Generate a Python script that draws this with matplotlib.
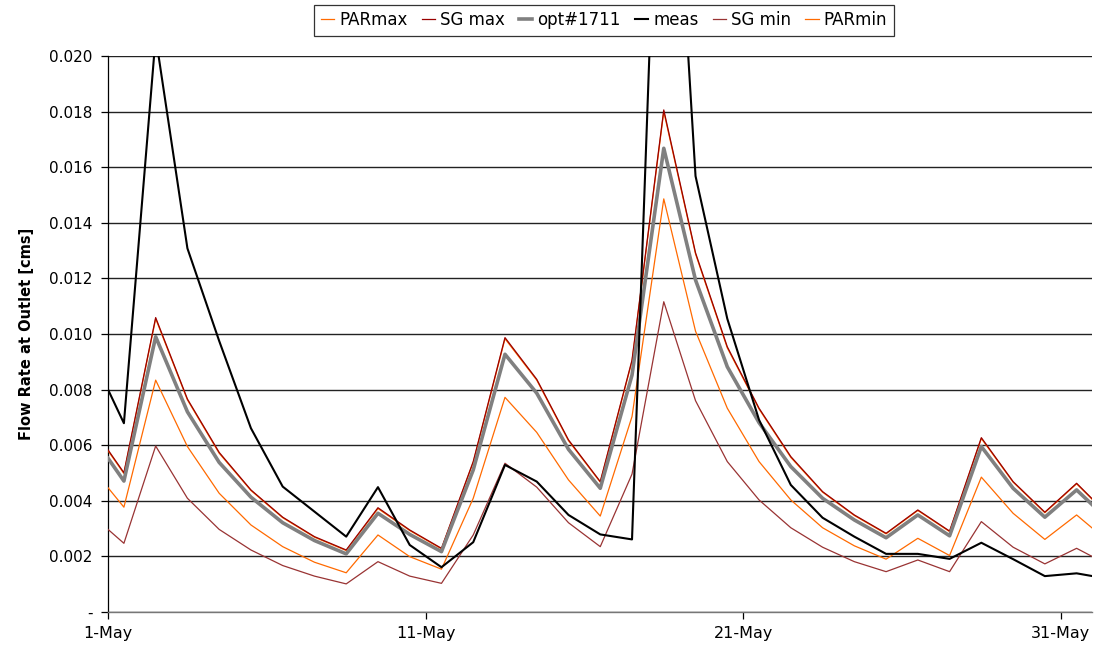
import matplotlib
matplotlib.use("Agg")
import matplotlib.pyplot as plt
from matplotlib.ticker import FixedLocator, FuncFormatter

# sample times, in days after 1-May 00:00
days = [0, 0.5, 1.5, 2.5, 3.5, 4.5, 5.5, 6.5, 7.5, 8.5, 9.5,
        10.5, 11.5, 12.5, 13.5, 14.5, 15.5, 16.5, 17.5, 18.5, 19.5,
        20.5, 21.5, 22.5, 23.5, 24.5, 25.5, 26.5, 27.5, 28.5, 29.5,
        30.5, 31]

sg_max = [0.00583, 0.00501, 0.01059, 0.00766, 0.00574, 0.00439, 0.00341, 0.00271, 0.00223, 0.00375, 0.00295,
          0.00229, 0.00541, 0.00987, 0.00837, 0.00619, 0.00469, 0.00906, 0.01806, 0.01292, 0.00954,
          0.00733, 0.00559, 0.00433, 0.00349, 0.00283, 0.00367, 0.00291, 0.00627, 0.00469, 0.00359,
          0.00463, 0.00406]
par_max = [0.00580, 0.00498, 0.01055, 0.00763, 0.00571, 0.00437, 0.00339, 0.00269, 0.00221, 0.00372, 0.00293,
           0.00227, 0.00538, 0.00983, 0.00834, 0.00616, 0.00467, 0.00902, 0.01800, 0.01288, 0.00950,
           0.00730, 0.00556, 0.00431, 0.00347, 0.00281, 0.00365, 0.00289, 0.00624, 0.00467, 0.00357,
           0.00461, 0.00404]
opt = [0.00553, 0.00471, 0.00990, 0.00720, 0.00538, 0.00413, 0.00321, 0.00257, 0.00209, 0.00355, 0.00279,
       0.00217, 0.00511, 0.00927, 0.00787, 0.00585, 0.00445, 0.00852, 0.01668, 0.01194, 0.00882,
       0.00681, 0.00523, 0.00409, 0.00331, 0.00267, 0.00349, 0.00274, 0.00595, 0.00445, 0.00341,
       0.00439, 0.00385]
meas = [0.00800, 0.00679, 0.02070, 0.01308, 0.00975, 0.00661, 0.00451, 0.00361, 0.00271, 0.00449, 0.00241,
        0.00161, 0.00251, 0.00529, 0.00469, 0.00349, 0.00279, 0.00261, 0.03450, 0.01568, 0.01055,
        0.00691, 0.00457, 0.00339, 0.00271, 0.00209, 0.00209, 0.00191, 0.00249, 0.00190, 0.00129,
        0.00139, 0.00129]
sg_min = [0.00297, 0.00247, 0.00597, 0.00409, 0.00297, 0.00223, 0.00167, 0.00129, 0.00101, 0.00181, 0.00129,
          0.00103, 0.00277, 0.00535, 0.00449, 0.00321, 0.00235, 0.00496, 0.01116, 0.00760, 0.00541,
          0.00403, 0.00303, 0.00233, 0.00181, 0.00145, 0.00187, 0.00145, 0.00325, 0.00233, 0.00173,
          0.00229, 0.00199]
par_min = [0.00447, 0.00377, 0.00834, 0.00595, 0.00427, 0.00313, 0.00235, 0.00179, 0.00141, 0.00277, 0.00199,
           0.00154, 0.00409, 0.00772, 0.00646, 0.00475, 0.00345, 0.00703, 0.01486, 0.01010, 0.00733,
           0.00541, 0.00403, 0.00303, 0.00238, 0.00190, 0.00265, 0.00203, 0.00485, 0.00355, 0.00261,
           0.00349, 0.00301]

xtick_pos = [0, 10, 20, 30]
xtick_labels = ["1-May", "11-May", "21-May", "31-May"]
yticks = [0.000, 0.002, 0.004, 0.006, 0.008, 0.010, 0.012, 0.014, 0.016, 0.018, 0.020]

ORANGE = "#FF6A00"
SGMAX = "#990000"
SGMIN = "#993333"
GRAY = "#808080"

plt.rcParams["font.family"] = ["DejaVu Sans"]

fig = plt.figure(figsize=(11.08, 6.48), dpi=100)
ax = fig.add_axes([0.0975, 0.0556, 0.8885, 0.858])

h_parmax, = ax.plot(days, par_max, color=ORANGE, lw=0.9, label="PARmax", zorder=3)
h_sgmax, = ax.plot(days, sg_max, color=SGMAX, lw=0.9, label="SG max", zorder=4)
h_opt, = ax.plot(days, opt, color=GRAY, lw=2.6, label="opt#1711", zorder=5)
h_meas, = ax.plot(days, meas, color="black", lw=1.5, label="meas", zorder=6)
h_sgmin, = ax.plot(days, sg_min, color=SGMIN, lw=0.9, label="SG min", zorder=3)
h_parmin, = ax.plot(days, par_min, color=ORANGE, lw=0.9, label="PARmin", zorder=3)

ax.set_xlim(0, 31)
ax.set_ylim(0, 0.020)

ax.yaxis.set_major_locator(FixedLocator(yticks))
ax.yaxis.set_major_formatter(FuncFormatter(lambda v, p: "-" if abs(v) < 1e-9 else f"{v:.3f}"))
ax.set_xticks(xtick_pos)
ax.set_xticklabels(xtick_labels)

ax.grid(axis="y", color="#222222", lw=1.0, zorder=1)
ax.grid(axis="x", visible=False)
for s in ["top", "right"]:
    ax.spines[s].set_visible(False)
ax.spines["left"].set_color("black")
ax.spines["left"].set_linewidth(0.9)
ax.spines["bottom"].set_color("#777777")
ax.spines["bottom"].set_linewidth(1.0)

ax.tick_params(axis="y", direction="out", length=5, width=0.9, color="black", labelsize=11, pad=6)
ax.tick_params(axis="x", direction="out", length=5, width=0.9, color="black", labelsize=11.5, pad=5)

ax.set_ylabel("Flow Rate at Outlet [cms]", fontsize=10.5, fontweight="bold", labelpad=11)

leg = fig.legend(handles=[h_parmax, h_sgmax, h_opt, h_meas, h_sgmin, h_parmin],
                 loc="upper center", bbox_to_anchor=(0.545, 0.993), ncol=6,
                 frameon=True, fancybox=False, edgecolor="#333333", framealpha=1,
                 fontsize=12, handlelength=0.8, handletextpad=0.3, columnspacing=0.85,
                 borderpad=0.4, borderaxespad=0)
leg.get_frame().set_linewidth(0.9)

fig.savefig("out.png", dpi=100)
